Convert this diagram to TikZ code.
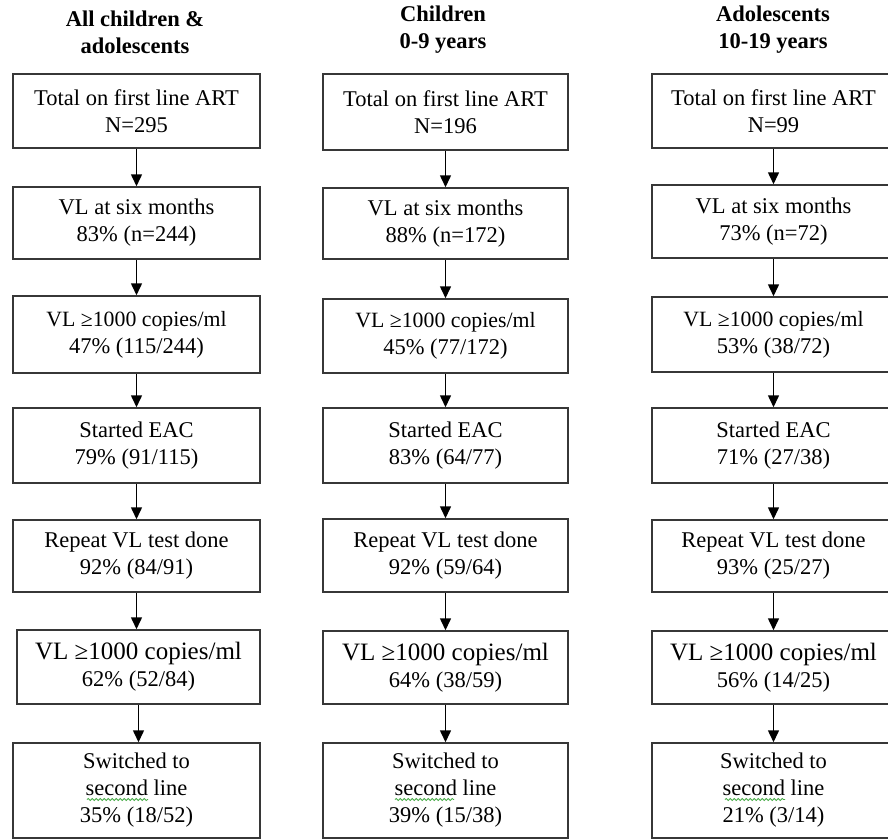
\documentclass[tikz,border=0pt]{standalone}
\usepackage{fontspec}
\setmainfont{Liberation Serif}
\usepackage{xcolor}
\definecolor{boxgray}{RGB}{55, 55, 55}
\definecolor{squiggreen}{RGB}{70, 170, 70}
\usepackage{tikz}
\usetikzlibrary{arrows.meta, decorations.pathmorphing}

% first line of the third and sixth boxes
\newcommand{\vlline}{{\fontsize{21.8}{27}\selectfont VL ≥1000 copies/ml}}
\newcommand{\vlbig}{{\fontsize{25}{27}\selectfont VL ≥1000 copies/ml}}

\begin{document}
\begin{tikzpicture}[x=1pt, y=-1pt,
  flowbox/.style={draw=boxgray, line width=1.5pt, align=center, inner sep=0pt,
    minimum width=245pt, font=\fontsize{22.5}{27}\selectfont},
  headtext/.style={align=center, font=\fontsize{22.5}{27}\selectfont\bfseries},
  flowarrow/.style={-{Triangle[length=12pt, width=11pt]}, line width=1.5pt, black},
  squiggle/.style={squiggreen, line width=0.8pt, decorate,
    decoration={snake, amplitude=1.1pt, segment length=4pt}}]

  % Frame
  \fill[white] (0,0) rectangle (888,839);
  \clip (0,0) rectangle (888,839);

  % Headings
  \node[headtext] (allhead) at (135,32) {All children \&\\adolescents};
  \node[headtext] (kidhead) at (443,30) {Children\\0-9 years};
  \node[headtext] (adohead) at (773,30) {Adolescents\\10-19 years};

  % All children & adolescents
  \node[flowbox, minimum width=247pt, minimum height=74pt] (all1) at (136.5,111) {Total on first line ART\\N=295};
  \node[flowbox, minimum width=247pt, minimum height=72pt] (all2) at (136.5,223) {VL at six months\\83\% (n=244)};
  \node[flowbox, minimum width=247pt, minimum height=77pt] (all3) at (136.5,334.5) {\vlline\\47\% (115/244)};
  \node[flowbox, minimum width=247pt, minimum height=75pt] (all4) at (136.5,445.5) {Started EAC\\79\% (91/115)};
  \node[flowbox, minimum width=247pt, minimum height=72pt] (all5) at (136.5,556) {Repeat VL test done\\92\% (84/91)};
  \node[flowbox, minimum width=243pt, minimum height=74pt] (all6) at (138.5,667) {\vlbig\\62\% (52/84)};
  \node[flowbox, minimum width=247pt, minimum height=95pt] (all7) at (136.5,790.5) {Switched to\\second line\\35\% (18/52)};

  % Children 0-9 years
  \node[flowbox, minimum height=76pt] (kid1) at (445.5,112) {Total on first line ART\\N=196};
  \node[flowbox, minimum height=71pt] (kid2) at (445.5,223.5) {VL at six months\\88\% (n=172)};
  \node[flowbox, minimum height=74pt] (kid3) at (445.5,336) {\vlline\\45\% (77/172)};
  \node[flowbox, minimum height=75pt] (kid4) at (445.5,445.5) {Started EAC\\83\% (64/77)};
  \node[flowbox, minimum height=73pt] (kid5) at (445.5,555.5) {Repeat VL test done\\92\% (59/64)};
  \node[flowbox, minimum height=73pt] (kid6) at (445.5,667.5) {\vlbig\\64\% (38/59)};
  \node[flowbox, minimum height=95pt] (kid7) at (445.5,790.5) {Switched to\\second line\\39\% (15/38)};

  % Adolescents 10-19 years
  \node[flowbox, minimum width=243pt, minimum height=74pt] (ado1) at (773.5,111) {Total on first line ART\\N=99};
  \node[flowbox, minimum width=243pt, minimum height=73pt] (ado2) at (773.5,221.5) {VL at six months\\73\% (n=72)};
  \node[flowbox, minimum width=243pt, minimum height=75pt] (ado3) at (773.5,334.5) {\vlline\\53\% (38/72)};
  \node[flowbox, minimum width=243pt, minimum height=75pt] (ado4) at (773.5,445.5) {Started EAC\\71\% (27/38)};
  \node[flowbox, minimum width=243pt, minimum height=72pt] (ado5) at (773.5,556) {Repeat VL test done\\93\% (25/27)};
  \node[flowbox, minimum width=243pt, minimum height=73pt] (ado6) at (773.5,667.5) {\vlbig\\56\% (14/25)};
  \node[flowbox, minimum width=243pt, minimum height=95pt] (ado7) at (773.5,790.5) {Switched to\\second line\\21\% (3/14)};

  % Arrows
  \foreach \col in {all, kid, ado}
    \foreach \i [count=\j from 2] in {1,...,6}
      \draw[flowarrow] (\col\i.south) -- (\col\i.south |- \col\j.north);

  % Spell-check marks under "second"
  \draw[squiggle] ([shift={(-49.5,9)}]all7.center) -- ++(61,0);
  \draw[squiggle] ([shift={(-50.5,9)}]kid7.center) -- ++(59,0);
  \draw[squiggle] ([shift={(-48.5,9)}]ado7.center) -- ++(60,0);
\end{tikzpicture}
\end{document}
